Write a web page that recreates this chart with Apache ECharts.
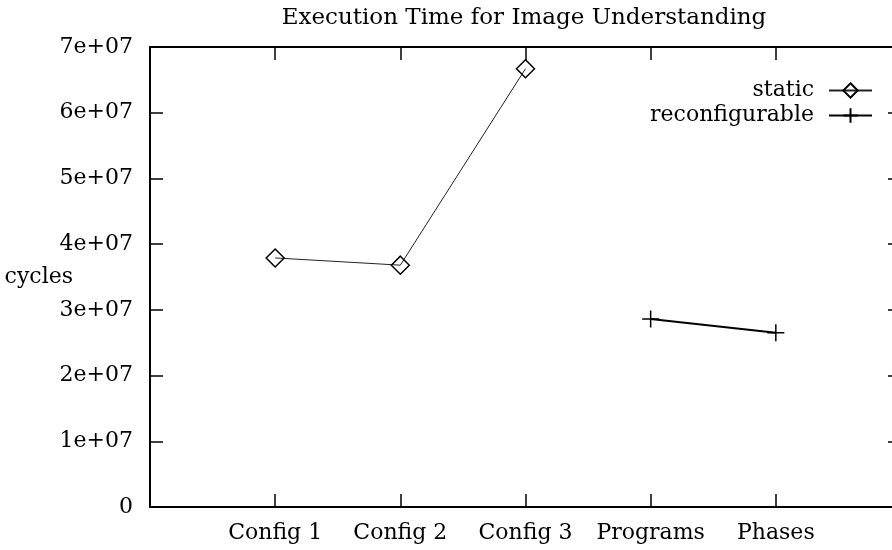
<!DOCTYPE html>
<html>
<head>
<meta charset="utf-8">
<script src="https://cdn.jsdelivr.net/npm/echarts@6/dist/echarts.min.js"></script>
<style>
html,body{margin:0;padding:0;background:#fff;}
#chart{width:892px;height:550px;}
</style>
</head>
<body>
<div id="chart"></div>
<script>
const titleText = 'Execution Time for Image Understanding';
const categories = ['Config 1', 'Config 2', 'Config 3', 'Programs', 'Phases'];
const staticX = [1, 2, 3];
const staticValues = [3.79e7, 3.68e7, 6.67e7];
const reconfX = [4, 5];
const reconfValues = [2.86e7, 2.65e7];
const yTickValues = [0, 1e7, 2e7, 3e7, 4e7, 5e7, 6e7, 7e7];

const FONT = 'DejaVu Serif';
const FS = 22;

function yFmt(v) {
  if (v === 0) return '0';
  const e = Math.floor(Math.log10(Math.abs(v)) + 1e-9);
  const m = Math.round(v / Math.pow(10, e) * 1000) / 1000;
  return m + 'e+' + (e < 10 ? '0' + e : '' + e);
}

const chart = echarts.init(document.getElementById('chart'), null, {renderer: 'canvas'});
const axisLineStyle = {color: '#000', width: 2};
const tickStyle = {color: '#000', width: 1.5};
const labelStyle = {fontFamily: FONT, fontSize: FS, color: '#000'};

const option = {
  animation: false,
  backgroundColor: '#fff',
  title: {
    text: titleText,
    left: 524,
    textAlign: 'center',
    top: 7,
    padding: 0,
    textStyle: {fontFamily: FONT, fontSize: 23, fontWeight: 'normal', color: '#000'}
  },
  legend: {
    orient: 'vertical',
    align: 'right',
    right: 19,
    top: 78,
    padding: 0,
    itemWidth: 43,
    itemHeight: 18,
    itemGap: 0,
    selectedMode: false,
    textStyle: Object.assign({padding: [0, 10, 0, 0], lineHeight: 25}, labelStyle),
    data: ['static', 'reconfigurable']
  },
  grid: {left: 150, right: -9, top: 47, bottom: 43, containLabel: false, outerBoundsMode: 'none'},
  xAxis: [
    {
      type: 'value', position: 'bottom', min: 0, max: 6, interval: 1,
      axisLine: {show: true, onZero: false, lineStyle: axisLineStyle},
      axisTick: {show: true, inside: true, length: 13, lineStyle: tickStyle},
      axisLabel: Object.assign({
        margin: 15,
        formatter: function (v) { return categories[v - 1] || ''; }
      }, labelStyle),
      splitLine: {show: false}
    },
    {
      type: 'value', position: 'top', min: 0, max: 6, interval: 1,
      axisLine: {show: true, onZero: false, lineStyle: axisLineStyle},
      axisTick: {show: true, inside: true, length: 13, lineStyle: tickStyle},
      axisLabel: {show: false},
      splitLine: {show: false}
    }
  ],
  yAxis: [
    {
      type: 'value', position: 'left',
      min: yTickValues[0], max: yTickValues[yTickValues.length - 1], interval: 1e7,
      name: 'cycles', nameLocation: 'middle', nameRotate: 0, nameGap: 77,
      nameMoveOverlap: false,
      nameTextStyle: labelStyle,
      axisLine: {show: true, onZero: false, lineStyle: axisLineStyle},
      axisTick: {show: true, inside: true, length: 13, lineStyle: tickStyle},
      axisLabel: Object.assign({margin: 17, formatter: yFmt}, labelStyle),
      splitLine: {show: false}
    },
    {
      type: 'value', position: 'right',
      min: yTickValues[0], max: yTickValues[yTickValues.length - 1], interval: 1e7,
      axisLine: {show: true, onZero: false, lineStyle: axisLineStyle},
      axisTick: {show: true, inside: true, length: 13, lineStyle: tickStyle},
      axisLabel: {show: false},
      splitLine: {show: false}
    }
  ],
  series: [
    {
      name: 'static', type: 'line', xAxisIndex: 0, yAxisIndex: 0,
      data: staticX.map(function (x, i) { return [x, staticValues[i]]; }),
      symbol: 'diamond', symbolSize: [18, 18], showAllSymbol: true,
      lineStyle: {color: '#222', width: 1},
      itemStyle: {color: 'rgba(0,0,0,0)', borderColor: '#000', borderWidth: 1.5},
      emphasis: {disabled: true}, silent: true
    },
    {
      name: 'reconfigurable', type: 'line', xAxisIndex: 0, yAxisIndex: 0,
      data: reconfX.map(function (x, i) { return [x, reconfValues[i]]; }),
      symbol: 'path://M8,0L8,16M0,8L16,8', symbolSize: 17, showAllSymbol: true,
      lineStyle: {color: '#000', width: 2},
      itemStyle: {color: 'rgba(0,0,0,0)', borderColor: '#000', borderWidth: 1.5},
      emphasis: {disabled: true}, silent: true
    }
  ]
};
chart.setOption(option);
</script>
</body>
</html>
